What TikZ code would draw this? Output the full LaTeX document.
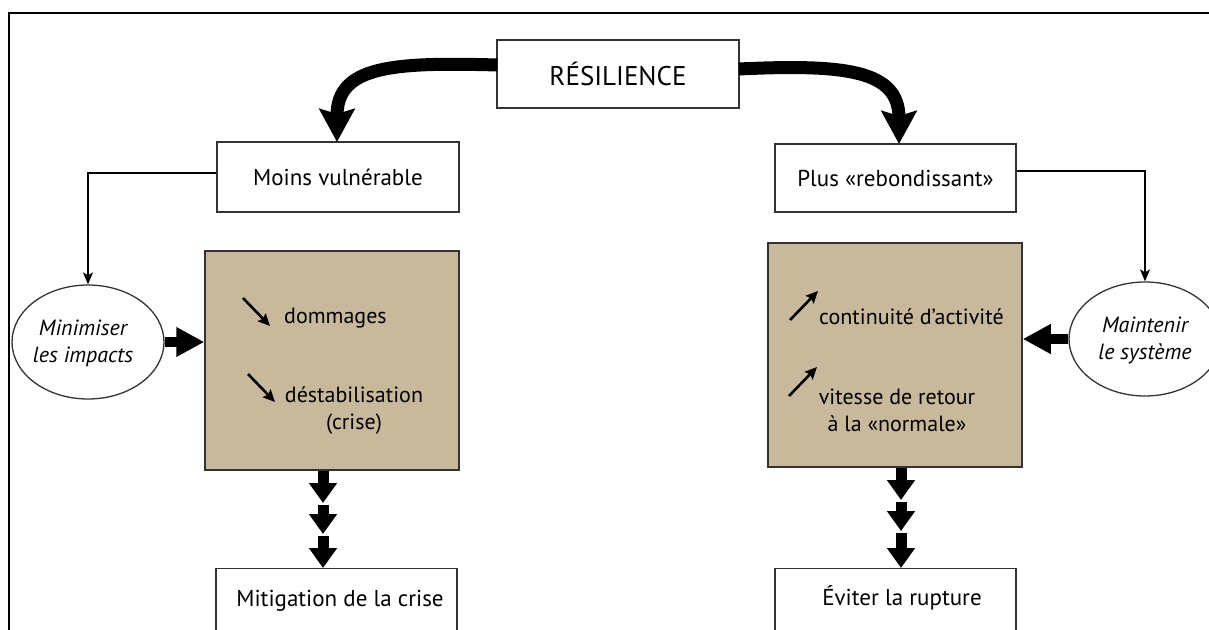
\documentclass[tikz,border=0pt]{standalone}
\usepackage{fontspec}
\setmainfont{PT Sans}
\usetikzlibrary{arrows.meta,shapes.geometric,calc}
\definecolor{tanfill}{HTML}{C8B99C}
\definecolor{edgegray}{HTML}{333333}
\begin{document}
\begin{tikzpicture}[x=1pt,y=-1pt,
  labelfont/.style={font=\fontsize{22}{27}\selectfont},
  boxfont/.style={font=\fontsize{23}{27}\selectfont},
  whitebox/.style={draw=edgegray,line width=1.3pt,fill=white,rectangle,inner sep=0pt,boxfont},
  tanbox/.style={draw=edgegray,line width=1.5pt,fill=tanfill,rectangle,inner sep=0pt},
  oval/.style={draw=edgegray,line width=1.3pt,fill=white,ellipse,inner sep=0pt,minimum width=152pt,minimum height=114pt},
  ovaltext/.style={inner sep=0pt,align=center,font=\fontsize{22}{27}\selectfont\itshape},
  thin/.style={draw=black,line width=1.3pt,-{Stealth[width=10pt,length=12pt,inset=3pt]}},
  curvy/.style={draw=black,line width=13pt,-{Stealth[width=35pt,length=33pt,inset=5pt]}},
  blockh/.style={draw=black,line width=10pt,-{Triangle[width=28pt,length=28pt]}},
  blockv/.style={draw=black,line width=11pt,-{Triangle[width=27pt,length=20pt]}},
  small/.style={draw=black,line width=2.6pt,-{Stealth[width=11pt,length=12pt,inset=2pt]}},
  txt/.style={inner sep=0pt,labelfont},
  boxtxt/.style={inner sep=0pt,boxfont},
]
\useasboundingbox (0,0) rectangle (1209,629);
\clip (0,0) rectangle (1209,629);

% frame
\draw[line width=2pt] (9,700) -- (9,13) -- (1300,13);

% top box
\node[whitebox,minimum width=242pt,minimum height=68pt,font=\fontsize{27}{32}\selectfont] (res) at (618,74) {RÉSILIENCE};

% second row
\node[whitebox,minimum width=242pt,minimum height=70pt] (moins) at (338,177) {Moins vulnérable};
\node[whitebox,minimum width=241pt,minimum height=68pt] (plus) at (895.5,178) {Plus «rebondissant»};

% tan boxes
\node[tanbox,minimum width=254pt,minimum height=219pt] (tanL) at (332,360.5) {};
\node[tanbox,minimum width=254pt,minimum height=224pt] (tanR) at (895,355) {};

% ellipses
\node[oval] (ellL) at (88,342) {};
\node[ovaltext] (ellLt) at (83,343) {Minimiser\\les impacts};
\node[oval] (ellR) at (1145,339) {};
\node[ovaltext] (ellRt) at (1145,340) {Maintenir\\le système};

% bottom boxes
\node[whitebox,minimum width=241pt,minimum height=140pt,anchor=north] (mitig) at (336.5,568) {};
\node[boxtxt] (mitigt) at (340,601) {Mitigation de la crise};
\node[whitebox,minimum width=241pt,minimum height=140pt,anchor=north] (eviter) at (895.5,568) {};
\node[boxtxt] (evitert) at (902,598) {Éviter la rupture};

% tan box texts
\node[txt,anchor=west] (dom) at (284,318) {dommages};
\node[txt,align=center] (dest) at (354,410) {déstabilisation\\(crise)};
\node[txt,anchor=west] (cont) at (819,317) {continuité d’activité};
\node[txt,align=center] (vit) at (897,410) {vitesse de retour\\à la «normale»};

% small inner arrows
\coordinate (a1s) at (243,298); \coordinate (a1e) at (270,326);
\coordinate (a2s) at (248,374); \coordinate (a2e) at (275,402);
\coordinate (a3s) at (790,320); \coordinate (a3e) at (818,291);
\coordinate (a4s) at (789,396); \coordinate (a4e) at (817,367);
\draw[small] (a1s) -- (a1e);
\draw[small] (a2s) -- (a2e);
\draw[small] (a3s) -- (a3e);
\draw[small] (a4s) -- (a4e);

% thin connectors
\draw[thin] (moins.west |- 0,173) -- (ellL.north |- 0,173) -- (ellL.north);
\draw[thin] (plus.east |- 0,171) -- (ellR.north |- 0,171) -- (ellR.north);

% curved thick arrows
\coordinate (moinsIn) at (337,142);
\coordinate (plusIn) at (899,144);
\draw[curvy] ($(res.west)+(1,-9)$) .. controls (392,62) and (337,66) .. (moinsIn);
\draw[curvy] ($(res.east)+(-1,-5)$) .. controls (845,64) and (899,70) .. (plusIn);

% horizontal block arrows
\draw[blockh] (ellL.east) -- (tanL.west |- ellL.east);
\draw[blockh] (ellR.west) -- (tanR.east |- ellR.west);

% triple down arrows left
\coordinate (l0) at (323,470);
\coordinate (l1) at (323,503);
\coordinate (l1b) at (323,504.5);
\coordinate (l2) at (323,534);
\coordinate (l2b) at (323,535.5);
\draw[blockv] (tanL.south -| l0) -- (l1);
\draw[blockv] (l1b) -- (l2);
\draw[blockv] (l2b) -- (mitig.north -| l2b);

% triple down arrows right
\coordinate (r1) at (901,500);
\coordinate (r1b) at (901,501.5);
\coordinate (r2) at (901,531);
\coordinate (r2b) at (901,532.5);
\draw[blockv] (tanR.south -| r1) -- (r1);
\draw[blockv] (r1b) -- (r2);
\draw[blockv] (r2b) -- (eviter.north -| r2b);
\end{tikzpicture}
\end{document}
